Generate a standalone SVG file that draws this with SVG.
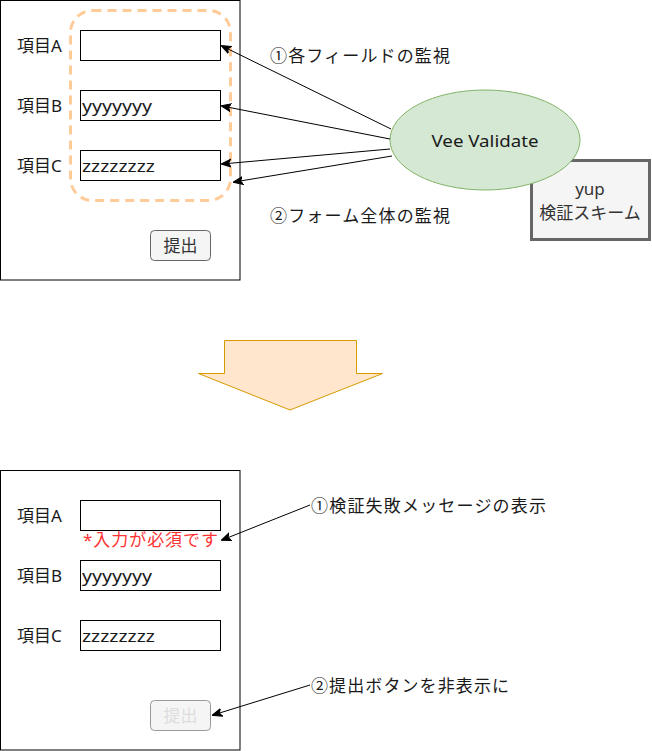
<svg xmlns="http://www.w3.org/2000/svg" width="652" height="751" viewBox="0 0 652 751">
<defs>
<marker id="ah" viewBox="0 0 10 10" refX="9" refY="5" markerWidth="10" markerHeight="10" markerUnits="userSpaceOnUse" orient="auto">
<path d="M0,1 L10,5 L0,9 L2.5,5 Z" fill="#000" stroke="#000" stroke-width="1"/>
</marker>
</defs>
<style>
text{font-family:"Noto Sans","Noto Sans CJK JP",sans-serif;font-size:17px;fill:#1a1a1a;dominant-baseline:central}
.panel{fill:#fff;stroke:#000;stroke-width:1}
.inp{fill:#fff;stroke:#000;stroke-width:1}
.btn{fill:#f5f5f5;stroke:#666;stroke-width:1}
.conn{fill:none;stroke:#000;stroke-width:1;marker-end:url(#ah)}
</style>
<rect width="652" height="751" fill="#fff"/>

<g id="top-form">
<rect class="panel" x="0.5" y="0.5" width="239.5" height="279.5"/>
<rect x="70.5" y="10.5" width="160" height="190" rx="22" fill="none" stroke="#FFCC99" stroke-width="3" stroke-dasharray="9 6"/>
<text x="17" y="45">項目A</text>
<rect class="inp" x="80.5" y="30.5" width="140" height="30"/>
<text x="17" y="105">項目B</text>
<rect class="inp" x="80.5" y="90.5" width="140" height="30"/>
<text x="82" y="105" textLength="70" lengthAdjust="spacingAndGlyphs">yyyyyyy</text>
<text x="17" y="165">項目C</text>
<rect class="inp" x="80.5" y="150.5" width="140" height="30"/>
<text x="82" y="165" textLength="73" lengthAdjust="spacingAndGlyphs">zzzzzzzz</text>
<rect class="btn" x="150.5" y="230.5" width="60" height="30" rx="4"/>
<text x="180.5" y="245" text-anchor="middle" style="fill:#333">提出</text>
</g>

<g id="yup">
<rect x="531.5" y="160.5" width="118" height="79" fill="#f5f5f5" stroke="#666" stroke-width="3"/>
<text x="590" y="188" text-anchor="middle" style="fill:#333">yup</text>
<text x="590" y="212" text-anchor="middle" style="fill:#333">検証スキーム</text>
</g>

<g id="vee-validate">
<ellipse cx="485" cy="140" rx="95" ry="50" fill="#d5e8d4" stroke="#82b366" stroke-width="1"/>
<text x="485" y="140" text-anchor="middle" textLength="107" lengthAdjust="spacingAndGlyphs">Vee Validate</text>
</g>

<g id="label-watch-field"><text x="270" y="55" textLength="180" lengthAdjust="spacing">①各フィールドの監視</text></g>
<g id="label-watch-form"><text x="270" y="215" textLength="180" lengthAdjust="spacing">②フォーム全体の監視</text></g>

<g id="big-arrow">
<path d="M224.5,340.5 H356.5 V373.5 H382.5 L290,410 L198.5,373.5 H224.5 Z" fill="#ffe6cc" stroke="#d79b00" stroke-width="1"/>
</g>

<g id="bottom-form">
<rect class="panel" x="0.5" y="470.5" width="239.5" height="279.5"/>
<text x="17" y="515">項目A</text>
<rect class="inp" x="80.5" y="500.5" width="140" height="30"/>
<text x="83" y="539" textLength="135" lengthAdjust="spacing" style="fill:#FF3333">*入力が必須です</text>
<text x="17" y="575">項目B</text>
<rect class="inp" x="80.5" y="560.5" width="140" height="30"/>
<text x="82" y="575" textLength="70" lengthAdjust="spacingAndGlyphs">yyyyyyy</text>
<text x="17" y="635">項目C</text>
<rect class="inp" x="80.5" y="620.5" width="140" height="30"/>
<text x="82" y="635" textLength="73" lengthAdjust="spacingAndGlyphs">zzzzzzzz</text>
<rect x="150.5" y="700.5" width="60" height="30" rx="4" fill="#f5f5f5" stroke="#999" stroke-width="1"/>
<text x="180.5" y="715" text-anchor="middle" style="fill:#ddd">提出</text>
</g>

<g id="label-error-msg"><text x="311" y="505" textLength="235" lengthAdjust="spacing">①検証失敗メッセージの表示</text></g>
<g id="label-hide-btn"><text x="311" y="685" textLength="198" lengthAdjust="spacing">②提出ボタンを非表示に</text></g>

<g id="connectors">
<line class="conn" x1="391" y1="129" x2="222" y2="46"/>
<line class="conn" x1="390" y1="139" x2="222" y2="106"/>
<line class="conn" x1="390" y1="149" x2="222" y2="164"/>
<line class="conn" x1="392" y1="156" x2="234" y2="182"/>
<line class="conn" x1="310" y1="505" x2="222" y2="540"/>
<line class="conn" x1="310" y1="685" x2="213" y2="715"/>
</g>
</svg>
